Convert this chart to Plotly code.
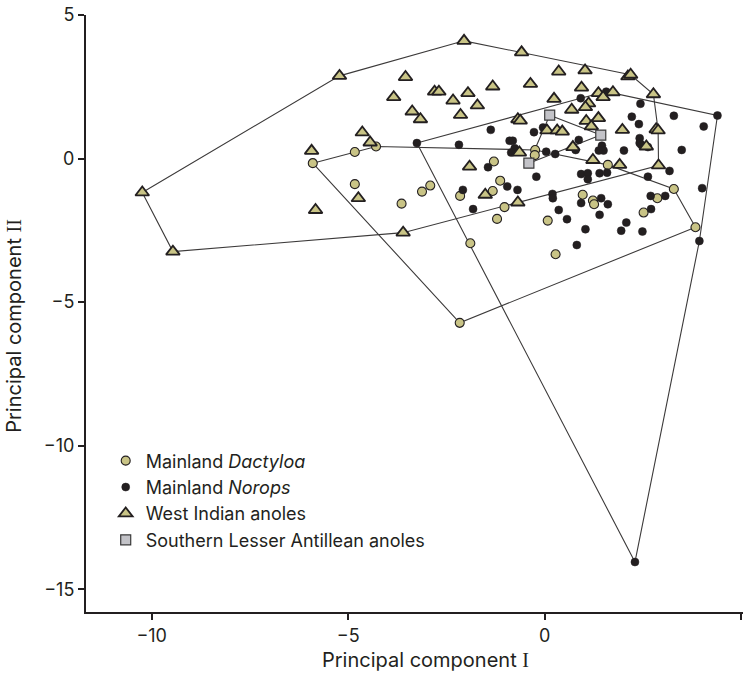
import plotly.graph_objects as go

# ---------------- data ----------------
dactyloa_x = [-5.90, -4.83, -4.29, -4.83, -3.64, -3.12, -2.91, -2.15, -1.29, -1.13,
              -1.32, -1.02, -1.21, -1.89, -2.16, -0.24, -0.25, 0.08, 0.28, 1.61,
              0.97, 1.23, 1.26, 2.87, 2.52, 3.29, 3.84]
dactyloa_y = [-0.16, 0.23, 0.42, -0.89, -1.57, -1.15, -0.94, -1.30, -0.10, -0.77,
              -1.13, -1.69, -2.10, -2.95, -5.72, 0.30, 0.12, -2.16, -3.33, -0.22,
              -1.26, -1.46, -1.59, -1.38, -1.88, -1.06, -2.39]

norops_x = [-3.25, -1.37, -2.18, -0.89, -0.81, -0.76, -0.85, -0.27, -0.04, 0.04,
            -1.44, -0.21, 1.57, 2.44, 0.92, 3.29, 2.22, 2.40, 3.49, 2.02,
            2.42, 2.42, 2.46, 2.63, 0.87, 0.79, 1.46, 1.50, 1.38, 0.27,
            0.93, 1.10, 1.10, 1.40, 1.59, 2.63, 3.18, 4.01, 3.94, 4.40,
            4.05, -2.08, -1.82, -0.95, -0.69, 0.20, 0.21, 0.36, 0.57, 0.93,
            1.44, 1.61, 1.40, 2.70, 3.07, 2.71, 2.08, 1.95, 2.49, 1.04,
            0.82, 2.30]
norops_y = [0.54, 1.00, 0.48, 0.62, 0.62, 0.36, 0.21, 0.92, 1.08, 0.24,
            -0.30, -0.63, 2.33, 1.91, 2.10, 1.49, 1.46, 1.20, 0.30, 0.28,
            0.71, 0.54, 0.48, 0.40, 0.65, 0.30, 0.45, 0.28, 0.28, 0.16,
            -0.54, -0.51, -0.72, -0.51, -0.49, -0.63, -0.43, -1.03, -2.87, 1.50,
            1.12, -1.09, -1.76, -0.97, -1.09, -1.23, -1.38, -1.79, -2.11, -1.55,
            -1.38, -1.59, -1.96, -1.30, -1.30, -1.76, -2.23, -2.51, -2.54, -2.46,
            -3.01, -14.05]

westindian_x = [-5.22, -3.54, -3.84, -3.37, -3.16, -4.64, -4.44, -5.93, -10.24, -9.46,
                -4.74, -5.83, -3.60, -2.05, -0.585, -2.80, -2.69, -1.95, -1.32, -0.36,
                -2.33, -1.71, -2.14, -0.68, -0.62, -1.91, -0.64, 0.36, 1.03, 2.12,
                2.19, 0.94, 2.77, 0.24, 1.37, 1.49, 1.74, 1.12, 1.04, 0.69,
                1.06, 1.37, 1.19, 0.06, 0.32, 0.45, 1.98, 2.84, 2.89, 0.72,
                2.59, 1.23, 1.91, 2.90, -1.51, -0.68]
westindian_y = [2.88, 2.84, 2.14, 1.64, 1.37, 0.91, 0.56, 0.27, -1.18, -3.24,
                -1.38, -1.79, -2.58, 4.10, 3.70, 2.33, 2.33, 2.28, 2.51, 2.60,
                2.02, 1.85, 1.52, 1.37, 1.32, -0.28, 0.21, 3.03, 3.07, 2.86,
                2.92, 2.47, 2.24, 2.08, 2.28, 2.14, 2.31, 1.92, 1.79, 1.70,
                1.31, 1.41, 1.12, 0.98, 0.98, 0.94, 1.00, 1.02, 0.98, 0.40,
                0.42, -0.05, -0.22, -0.24, -1.26, -1.53]

sla_x = [0.13, 1.43, -0.40]
sla_y = [1.51, 0.82, -0.16]

x_ticks = [-10, -5, 0, 5]
y_ticks = [-15, -10, -5, 0, 5]

# ---------------- helpers ----------------
def convex_hull(xs, ys):
    pts = sorted(set(zip(xs, ys)))
    if len(pts) <= 2:
        return pts

    def cross(o, a, b):
        return (a[0] - o[0]) * (b[1] - o[1]) - (a[1] - o[1]) * (b[0] - o[0])

    lower, upper = [], []
    for p in pts:
        while len(lower) >= 2 and cross(lower[-2], lower[-1], p) <= 0:
            lower.pop()
        lower.append(p)
    for p in reversed(pts):
        while len(upper) >= 2 and cross(upper[-2], upper[-1], p) <= 0:
            upper.pop()
        upper.append(p)
    hull = lower[:-1] + upper[:-1]
    return hull + [hull[0]]

INK = "#231f20"
KHAKI = "#c9c486"
GREY = "#c3c3c8"
HULL = "#3c3a3a"
FONT = "Inter, Liberation Sans, Arial, sans-serif"
SERIF = "Liberation Serif, Times New Roman, serif"

fig = go.Figure()

# hulls (drawn first, beneath points)
for xs, ys in [(westindian_x, westindian_y), (dactyloa_x, dactyloa_y),
               (norops_x, norops_y), (sla_x, sla_y)]:
    h = convex_hull(xs, ys)
    fig.add_trace(go.Scatter(
        x=[p[0] for p in h], y=[p[1] for p in h], mode="lines",
        line=dict(color=HULL, width=1.1), hoverinfo="skip", showlegend=False))

fig.add_trace(go.Scatter(
    x=dactyloa_x, y=dactyloa_y, mode="markers", name="Mainland <i>Dactyloa</i>",
    marker=dict(symbol="circle", size=9, color=KHAKI, line=dict(color=INK, width=1.1))))
fig.add_trace(go.Scatter(
    x=norops_x, y=norops_y, mode="markers", name="Mainland <i>Norops</i>",
    marker=dict(symbol="circle", size=8, color=INK, line=dict(color=INK, width=0.5))))
fig.add_trace(go.Scatter(
    x=westindian_x, y=westindian_y, mode="markers", name="West Indian anoles",
    marker=dict(symbol="triangle-up", size=12, color=KHAKI, line=dict(color=INK, width=1.8))))
fig.add_trace(go.Scatter(
    x=sla_x, y=sla_y, mode="markers", name="Southern Lesser Antillean anoles",
    marker=dict(symbol="square", size=10, color=GREY, line=dict(color="#3a3a3a", width=1.2))))

axis_common = dict(
    showline=True, linecolor=INK, linewidth=2, mirror=False,
    showgrid=False, zeroline=False,
    ticks="outside", ticklen=6, tickwidth=1.5, tickcolor=INK,
    tickfont=dict(family=FONT, size=18, color=INK),
)

fig.update_layout(
    width=745, height=679,
    margin=dict(l=86, r=2, t=15, b=67),
    paper_bgcolor="white", plot_bgcolor="white",
    font=dict(family=FONT, size=18, color=INK),
    xaxis=dict(range=[-11.672, 5.05], tickvals=x_ticks, **axis_common),
    yaxis=dict(range=[-15.79, 5.0], tickvals=y_ticks, ticklabelstandoff=0, **axis_common),
    legend=dict(
        x=0.03, y=0.284, xanchor="left", yanchor="top",
        bgcolor="rgba(0,0,0,0)", borderwidth=0,
        font=dict(family=FONT, size=18, color=INK),
        tracegroupgap=0, itemsizing="trace",
    ),
    annotations=[
        dict(text="Principal component <span style='font-family:" + SERIF + "'>I</span>",
             xref="paper", yref="paper", x=0.516, y=-0.08, xanchor="center", yanchor="middle",
             showarrow=False, font=dict(family=FONT, size=20, color=INK)),
        dict(text="Principal component <span style='font-family:" + SERIF + "'>II</span>",
             xref="paper", yref="paper", x=-0.11, y=0.479, xanchor="center", yanchor="middle",
             textangle=-90, showarrow=False, font=dict(family=FONT, size=20, color=INK)),
    ],
)

fig.write_html("out.html")
